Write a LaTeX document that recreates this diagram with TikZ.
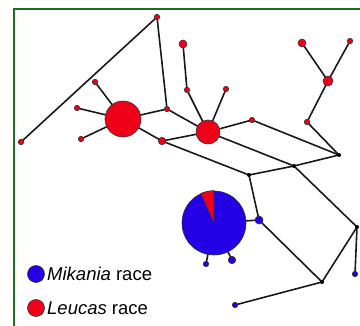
\documentclass[tikz,border=0pt]{standalone}
\usepackage{fontspec}
\setmainfont{Liberation Sans}
\usetikzlibrary{backgrounds}
\definecolor{hapred}{RGB}{240,0,24}
\definecolor{hapblue}{RGB}{36,0,230}
\definecolor{framegreen}{RGB}{30,110,30}
\begin{document}
\begin{tikzpicture}[x=1pt,y=-1pt,
  hap/.style={circle,draw=black!80,line width=0.6pt,inner sep=0pt,minimum size=#1},
  red/.style={hap=#1,fill=hapred},
  blue/.style={hap=#1,fill=hapblue},
  junction/.style={circle,fill=black,inner sep=0pt,minimum size=4pt},
  link/.style={line width=1.6pt,black!90},
  legendtext/.style={anchor=base west,inner sep=0pt,font=\fontsize{18.5}{21}\selectfont}]
\useasboundingbox (0,0) rectangle (360,326);

% frame
\draw[framegreen,line width=2pt] (14,326) -- (14,9) -- (360,9);

% haplotypes of the Leucas race
\node[red=36pt] (h1) at (123,119) {};
\node[red=24pt] (h2) at (208,132) {};
\node[red=5.5pt] (a) at (157,17) {};
\node[red=5.5pt] (b) at (21,142) {};
\node[red=5.5pt] (c) at (95,82) {};
\node[red=5.5pt] (d) at (77,108) {};
\node[red=5.5pt] (e) at (81,139) {};
\node[red=5.5pt] (f) at (167,109) {};
\node[red=7.5pt] (g) at (162,141) {};
\node[red=8pt] (i) at (183,44) {};
\node[red=5.5pt] (j) at (187,90) {};
\node[red=5.5pt] (k) at (226,89) {};
\node[red=5.5pt] (l) at (252,120) {};
\node[red=8pt] (m) at (302,43) {};
\node[red=5.5pt] (n) at (350,41) {};
\node[red=10pt] (o) at (328,81) {};
\node[red=5.5pt] (p) at (307,122) {};

% median vectors
\node[junction] (q) at (339,155) {};
\node[junction] (r) at (249,175) {};
\node[junction] (s) at (294,166) {};
\node[junction] (t) at (357,227) {};
\node[junction] (w) at (322,282) {};

% haplotypes of the Mikania race
\node[blue=64pt] (pie) at (214,223) {};
\node[blue=8pt] (u) at (259,220) {};
\node[blue=5.5pt] (v) at (355,274) {};
\node[blue=5.5pt] (x) at (235,305) {};
\node[blue=5.5pt] (y) at (206,264) {};
\node[blue=7.5pt] (z) at (232,260) {};

% Leucas share of the large mixed haplotype
\fill[hapred,draw=black!80,line width=0.6pt] (pie.center) -- (pie.90) -- (pie.96) -- (pie.102)
  -- (pie.108) -- (pie.114) -- cycle;

% network links, behind the haplotypes
\begin{scope}[on background layer]
\foreach \p/\q in {a/b,a/f,f/h1,h1/c,h1/d,h1/e,h1/g,f/h2,g/h2,i/j,j/h2,k/h2,
  h2/l,l/q,p/q,o/p,m/o,n/o,g/r,h2/s,r/s,s/q,s/t,r/u,pie/u,u/w,t/w,t/v,w/x,pie/y,pie/z}
  \draw[link] (\p.center) -- (\q.center);
\end{scope}

% legend
\node[blue=17pt] (lb) at (36,274) {};
\node[legendtext] (lbt) at (47,281) {\textit{Mikania} race};
\node[red=17pt] (lr) at (36,308) {};
\node[legendtext] (lrt) at (47,315) {\textit{Leucas} race};
\end{tikzpicture}
\end{document}
